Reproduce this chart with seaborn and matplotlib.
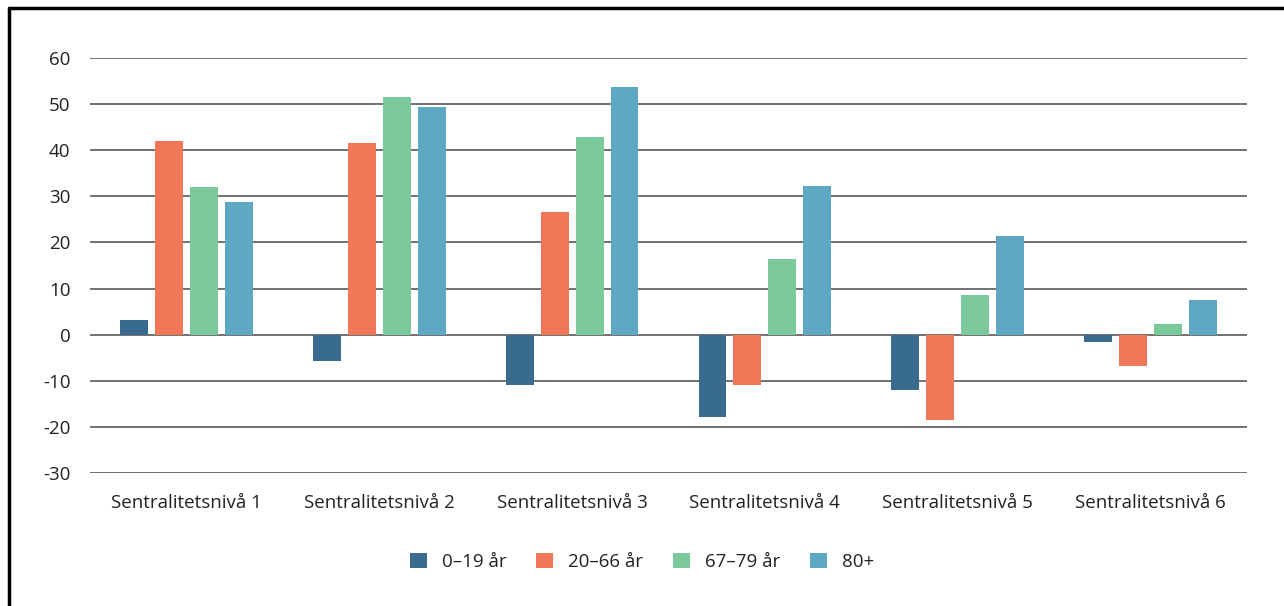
import pandas as pd
import seaborn as sns
import matplotlib.pyplot as plt
from matplotlib.lines import Line2D

# data
levels = ['Sentralitetsnivå 1', 'Sentralitetsnivå 2', 'Sentralitetsnivå 3',
          'Sentralitetsnivå 4', 'Sentralitetsnivå 5', 'Sentralitetsnivå 6']
groups = ['0–19 år', '20–66 år', '67–79 år', '80+']
age_0_19 = [3.2, -5.8, -11.0, -17.8, -12.1, -1.5]
age_20_66 = [42.0, 41.6, 26.6, -11.0, -18.6, -6.9]
age_67_79 = [32.0, 51.5, 42.9, 16.5, 8.7, 2.4]
age_80 = [28.8, 49.4, 53.7, 32.3, 21.4, 7.6]
colors = ['#386b8e', '#f27658', '#7bc99b', '#5fa8c4']

df = pd.DataFrame({'level': levels * 4,
                   'group': [g for g in groups for _ in levels],
                   'value': age_0_19 + age_20_66 + age_67_79 + age_80})

sns.set_theme(style='white')
plt.rcParams['font.family'] = ['Open Sans', 'DejaVu Sans']
plt.rcParams['axes.unicode_minus'] = False

fig = plt.figure(figsize=(12.84, 6.06), dpi=100)
ax = fig.add_axes([90 / 1284, 1 - 473 / 606, (1247 - 90) / 1284, (473 - 58) / 606])

sns.barplot(data=df, x='level', y='value', hue='group', hue_order=groups,
            palette=colors, width=0.725, gap=0.2, saturation=1, linewidth=0,
            ax=ax, zorder=3)

ax.set_ylim(-30, 60)
ax.set_yticks(range(-30, 61, 10))
ax.yaxis.grid(True, color='#4a4a4a', linewidth=1.1, zorder=0)
ax.set_axisbelow(True)
for s in ax.spines.values():
    s.set_visible(False)
ax.set_xlabel('')
ax.set_ylabel('')
ax.tick_params(axis='y', labelsize=13.5, colors='#222222', pad=14, length=0)
ax.tick_params(axis='x', labelsize=13.5, colors='#222222', pad=15, length=0)

handles, labels = ax.get_legend_handles_labels()
ax.legend(handles, labels, loc='center', bbox_to_anchor=(0.5, 1 - 562 / 606),
          bbox_transform=fig.transFigure, ncol=4, frameon=False, fontsize=13.5,
          handlelength=0.9, handleheight=0.9, handletextpad=0.8, columnspacing=1.6,
          labelcolor='#222222')

# frame lines at top and left like in the report
fig.add_artist(Line2D([9 / 1284, 1], [1 - 8 / 606, 1 - 8 / 606], color='black', linewidth=2.5,
                      transform=fig.transFigure))
fig.add_artist(Line2D([9 / 1284, 9 / 1284], [0, 1 - 8 / 606], color='black', linewidth=2.5,
                      transform=fig.transFigure))

fig.savefig('out.png', dpi=100)
